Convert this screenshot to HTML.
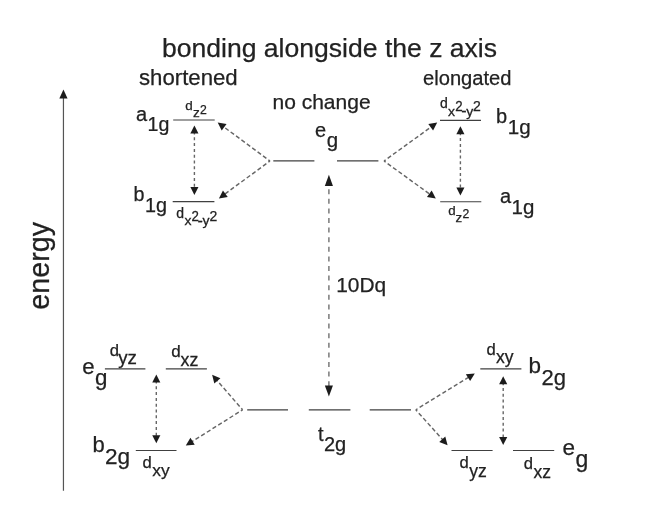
<!DOCTYPE html>
<html><head><meta charset="utf-8">
<style>
html,body{margin:0;padding:0;background:#fff;}
svg{display:block;will-change:transform;}
text{font-family:"Liberation Sans",sans-serif;fill:#222;stroke:#222;stroke-width:0.25;}
.l{stroke:#404040;stroke-width:1.2;fill:none;}
.d{stroke:#666;stroke-width:1.45;fill:none;stroke-dasharray:4.2 2.5;stroke-dashoffset:2.2;}
.dv{stroke:#666;stroke-width:1.4;fill:none;}
.h{fill:#1c1c1c;stroke:none;}
</style></head><body>
<svg width="651" height="512" viewBox="0 0 651 512">
<rect width="651" height="512" fill="#fff"/>
<text x="162" y="56.5" font-size="26.55">bonding alongside the z axis</text>
<text x="139" y="85.2" font-size="22.2">shortened</text>
<text x="423" y="85" font-size="20.15">elongated</text>
<text x="272.5" y="109" font-size="21">no change</text>
<text transform="translate(48.7,309.7) rotate(-90)" font-size="28.7">energy</text>
<text x="336.2" y="291.8" font-size="20.9">10Dq</text>
<path class="l" style="stroke:#555" d="M63.45 490.8V97"/>
<g class="h"><path d="M63.45 89.50L67.55 98.60L59.35 98.60Z"/></g>
<g class="l">
<path d="M173.2 120.0H214.7"/>
<path d="M172.7 201.55H214.4"/>
<path d="M273.3 160.8H314.4"/>
<path d="M337 160.8H378.4"/>
<path d="M440 120.4H481"/>
<path d="M440.2 201.75H481.3"/>
<path d="M104.9 368.8H145.4"/>
<path d="M165.8 368.8H206.9"/>
<path d="M135.8 450.5H176.5"/>
<path d="M247.2 409.95H288.0"/>
<path d="M308.8 409.95H350.4"/>
<path d="M369.7 409.95H411.0"/>
<path d="M480.3 368.8H521.4"/>
<path d="M451.5 450.5H492.6"/>
<path d="M513 450.5H554.2"/>
</g>
<g class="d">
<path d="M270 161L223.33 126.56"/>
<path d="M270 161L224.55 194.27"/>
<path d="M384 161L431.52 126.70"/>
<path d="M384 161L430.13 194.40"/>
<path d="M242.6 409.8L216.70 380.08"/>
<path d="M242.6 409.8L191.73 441.78"/>
<path d="M415.8 409.8L468.84 377.08"/>
<path d="M415.8 409.8L442.92 439.99"/>
</g><g class="dv">
<path d="M194.4 132.5V188.0" stroke-dasharray="3 2.8" stroke-dashoffset="1.0"/>
<path d="M460.4 133.3V188.5" stroke-dasharray="3 2.8" stroke-dashoffset="1.0"/>
<path d="M328.9 184.89999999999998V386.40000000000003" stroke-dasharray="5 4.6" stroke-dashoffset="5.3" stroke="#707070"/>
<path d="M156.3 381.5V436.2" stroke-dasharray="3 2.8" stroke-dashoffset="1.0"/>
<path d="M503.2 383.2V438" stroke-dasharray="3 2.8" stroke-dashoffset="1.0"/>
</g><g class="h">
<path d="M217.70 122.40L226.54 123.89L221.73 130.41Z"/>
<path d="M218.90 198.40L222.96 190.41L227.75 196.94Z"/>
<path d="M437.20 122.60L433.08 130.57L428.34 124.00Z"/>
<path d="M435.80 198.50L426.94 197.09L431.69 190.53Z"/>
<path d="M212.10 374.80L220.41 378.17L214.30 383.49Z"/>
<path d="M185.80 445.50L190.42 437.81L194.73 444.67Z"/>
<path d="M474.80 373.40L470.12 381.05L465.86 374.15Z"/>
<path d="M447.60 445.20L439.24 441.96L445.27 436.54Z"/>
<path d="M194.40 125.50L198.45 133.50L190.35 133.50Z"/>
<path d="M194.40 195.00L190.35 187.00L198.45 187.00Z"/>
<path d="M460.40 126.30L464.45 134.30L456.35 134.30Z"/>
<path d="M460.40 195.50L456.35 187.50L464.45 187.50Z"/>
<path d="M328.90 174.70L332.95 185.90L324.85 185.90Z"/>
<path d="M328.90 396.60L324.85 385.40L332.95 385.40Z"/>
<path d="M156.30 374.50L160.35 382.50L152.25 382.50Z"/>
<path d="M156.30 443.20L152.25 435.20L160.35 435.20Z"/>
<path d="M503.20 376.20L507.25 384.20L499.15 384.20Z"/>
<path d="M503.20 445.00L499.15 437.00L507.25 437.00Z"/>
</g>
<text x="136.10" y="120.90" font-size="20">a</text>
<text transform="translate(147.60,130.80) scale(1.015,1)" font-size="19.3">1g</text>
<text x="133.50" y="201.30" font-size="19.7">b</text>
<text x="145.00" y="212.20" font-size="19.8">1g</text>
<text x="315.10" y="137.40" font-size="20">e</text>
<text x="326.70" y="146.90" font-size="20.5">g</text>
<text x="496.00" y="123.40" font-size="20">b</text>
<text x="507.70" y="133.85" font-size="20.6">1g</text>
<text x="500.00" y="202.80" font-size="20">a</text>
<text x="511.50" y="213.85" font-size="20.5">1g</text>
<text x="82.20" y="374.30" font-size="22.2">e</text>
<text x="95.00" y="385.00" font-size="22.3">g</text>
<text x="92.50" y="452.20" font-size="22">b</text>
<text x="104.90" y="463.90" font-size="22.6">2g</text>
<text x="318.00" y="440.60" font-size="20">t</text>
<text x="324.00" y="451.10" font-size="20">2g</text>
<text x="528.40" y="373.20" font-size="22.5">b</text>
<text x="541.50" y="384.50" font-size="22">2g</text>
<text x="562.50" y="454.70" font-size="22.5">e</text>
<text x="575.50" y="466.50" font-size="23">g</text>
<text x="176.20" y="217.70" font-size="14">d</text>
<text transform="translate(184.40,225.00) scale(1.13,1)" font-size="12.4">x</text>
<text transform="translate(191.45,220.90) scale(0.95,1)" font-size="14">2</text>
<text x="197.50" y="225.90" font-size="16">-</text>
<text transform="translate(202.50,225.10) scale(1.13,1)" font-size="12.4">y</text>
<text x="209.40" y="220.90" font-size="14">2</text>
<text x="439.90" y="108.25" font-size="14">d</text>
<text transform="translate(448.10,115.55) scale(1.13,1)" font-size="12.4">x</text>
<text transform="translate(455.15,111.45) scale(0.95,1)" font-size="14">2</text>
<text x="461.20" y="116.45" font-size="16">-</text>
<text transform="translate(466.20,115.65) scale(1.13,1)" font-size="12.4">y</text>
<text x="473.10" y="111.45" font-size="14">2</text>
<text x="185.20" y="109.60" font-size="13.4">d</text>
<text x="193.00" y="116.80" font-size="13.5">z</text>
<text x="200.10" y="113.70" font-size="12.2">2</text>
<text x="448.20" y="215.30" font-size="13.3">d</text>
<text x="455.60" y="221.80" font-size="13.3">z</text>
<text x="462.50" y="218.40" font-size="12.2">2</text>
<text x="109.80" y="355.80" font-size="16.6">d</text>
<text transform="translate(118.20,363.90) scale(1.07,1)" font-size="17.5">yz</text>
<text x="171.30" y="357.30" font-size="17">d</text>
<text transform="translate(180.60,366.00) scale(1.02,1)" font-size="17.5">xz</text>
<text x="142.60" y="467.80" font-size="16.6">d</text>
<text x="152.20" y="476.20" font-size="17.4">xy</text>
<text x="486.50" y="355.40" font-size="16.6">d</text>
<text x="496.00" y="363.10" font-size="17.5">xy</text>
<text x="459.40" y="468.20" font-size="16.6">d</text>
<text x="469.20" y="477.00" font-size="17.6">yz</text>
<text x="523.80" y="469.30" font-size="16.6">d</text>
<text x="533.50" y="477.70" font-size="17.5">xz</text>
</svg>
</body></html>
